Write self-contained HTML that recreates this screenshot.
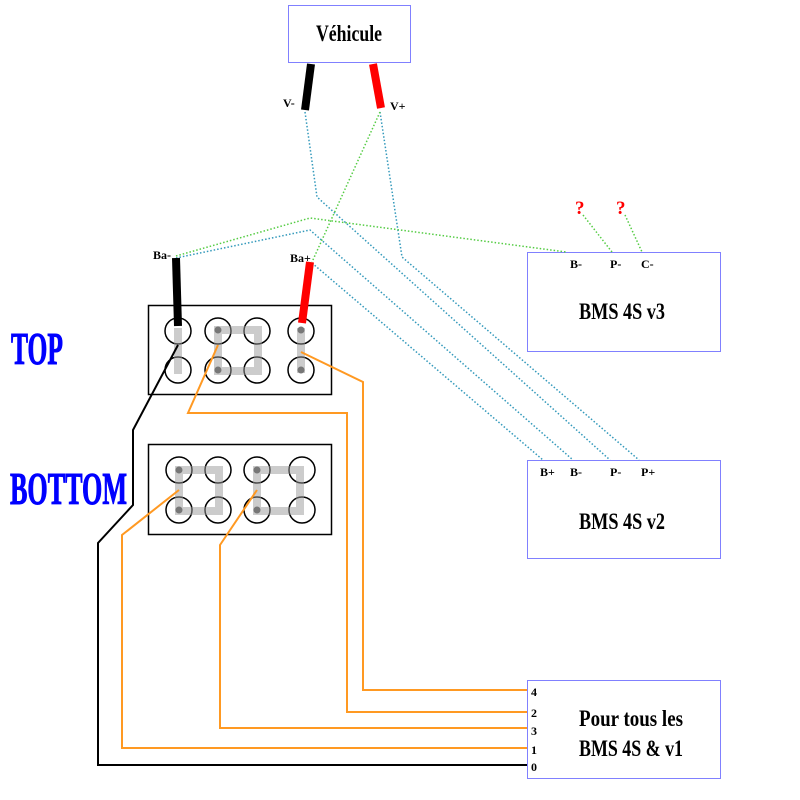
<!DOCTYPE html>
<html><head><meta charset="utf-8"><style>html,body{margin:0;padding:0;background:#fff}svg{display:block}</style></head>
<body>
<svg width="800" height="800" viewBox="0 0 800 800" xmlns="http://www.w3.org/2000/svg" font-family="Liberation Serif, serif" font-weight="bold">
<rect width="800" height="800" fill="#fff"/>
<rect x="288.5" y="5.5" width="122" height="57" fill="#fff" stroke="#8080ff" stroke-width="1"/>
<text x="349" y="41" font-size="23" text-anchor="middle" textLength="66" lengthAdjust="spacingAndGlyphs">Véhicule</text>
<rect x="527.5" y="252.5" width="193" height="99" fill="none" stroke="#8080ff"/>
<text x="622" y="319" font-size="23" text-anchor="middle" textLength="86" lengthAdjust="spacingAndGlyphs">BMS 4S v3</text>
<rect x="527.5" y="460.5" width="193" height="98" fill="none" stroke="#8080ff"/>
<text x="622" y="529" font-size="23" text-anchor="middle" textLength="86" lengthAdjust="spacingAndGlyphs">BMS 4S v2</text>
<rect x="527.5" y="680.5" width="193" height="98" fill="none" stroke="#8080ff"/>
<text x="631" y="726" font-size="23" text-anchor="middle" textLength="104" lengthAdjust="spacingAndGlyphs">Pour tous les</text>
<text x="631" y="756" font-size="23" text-anchor="middle" textLength="104" lengthAdjust="spacingAndGlyphs">BMS 4S &amp; v1</text>
<text x="11" y="364" font-size="45" fill="#0000ff" stroke="#0000ff" stroke-width="1" textLength="52" lengthAdjust="spacingAndGlyphs">TOP</text>
<text x="10" y="504" font-size="45" fill="#0000ff" stroke="#0000ff" stroke-width="1" textLength="117" lengthAdjust="spacingAndGlyphs">BOTTOM</text>
<rect x="148.5" y="305.5" width="183" height="89" fill="#fff" stroke="#000" stroke-width="1.5"/>
<rect x="148.5" y="444.5" width="183" height="90" fill="#fff" stroke="#000" stroke-width="1.5"/>
<g fill="none" stroke="#000" stroke-width="1.5">
<circle cx="178" cy="331" r="13"/><circle cx="218" cy="331" r="13"/><circle cx="257" cy="331" r="13"/><circle cx="301" cy="331" r="13"/>
<circle cx="178" cy="370" r="13"/><circle cx="218" cy="370" r="13"/><circle cx="257" cy="370" r="13"/><circle cx="301" cy="370" r="13"/>
<circle cx="179" cy="470" r="13"/><circle cx="218" cy="470" r="13"/><circle cx="257" cy="470" r="13"/><circle cx="302" cy="470" r="13"/>
<circle cx="179" cy="510" r="13"/><circle cx="218" cy="510" r="13"/><circle cx="257" cy="510" r="13"/><circle cx="302" cy="510" r="13"/>
</g>
<g fill="none" stroke="#999" stroke-opacity="0.5" stroke-width="8">
<line x1="178" y1="328" x2="178" y2="374"/>
<rect x="218" y="330" width="40" height="41"/>
<line x1="301" y1="328" x2="301" y2="373"/>
<rect x="179" y="470" width="40" height="41"/>
<rect x="257" y="470" width="43" height="41"/>
</g>
<g fill="#777"><circle cx="218" cy="330" r="3.5"/><circle cx="218" cy="370" r="3.5"/><circle cx="301" cy="330" r="3.5"/><circle cx="301" cy="370" r="3.5"/>
<circle cx="179" cy="470" r="3.5"/><circle cx="179" cy="510" r="3.5"/><circle cx="257" cy="470" r="3.5"/><circle cx="257" cy="510" r="3.5"/></g>
<g fill="none" stroke-width="2">
<polyline points="178,345 133,430 133,505 98,543 98,765 527,765" stroke="#000"/>
<polyline points="301,352 363,382 363,690 527,690" stroke="#ff9922"/>
<polyline points="218,345 188,413 347,413 347,712 527,712" stroke="#ff9922"/>
<polyline points="257,490 220,545 220,728 527,728" stroke="#ff9922"/>
<polyline points="179,490 122,535 122,748 527,748" stroke="#ff9922"/>
</g>
<g fill="none" stroke-width="1.5" stroke-dasharray="1.5 2">
<polyline points="305,112 317,197 610,460" stroke="#3399bb"/>
<polyline points="380,112 402,257 639,460" stroke="#3399bb"/>
<polyline points="176,258 310,230 573,460" stroke="#3399bb"/>
<polyline points="312,263 543,460" stroke="#3399bb"/>
<polyline points="176,256 310,218 566,252" stroke="#55cc44"/>
<polyline points="380,112 312,262" stroke="#55cc44"/>
<polyline points="583,215 612,252" stroke="#55cc44"/>
<polyline points="625,215 642,252" stroke="#55cc44"/>
</g>
<g stroke-width="8">
<line x1="311" y1="64" x2="305" y2="110" stroke="#000"/>
<line x1="373" y1="64" x2="381" y2="108" stroke="#ff0000"/>
<line x1="176" y1="258" x2="178" y2="326" stroke="#000"/>
<line x1="310" y1="262" x2="302" y2="323" stroke="#ff0000"/>
</g>
<g font-size="12">
<text x="283" y="107">V-</text><text x="390" y="110">V+</text>
<text x="153" y="259">Ba-</text><text x="290" y="262">Ba+</text>
<text x="570" y="268">B-</text><text x="610" y="268">P-</text><text x="641" y="268">C-</text>
<text x="540" y="476">B+</text><text x="570" y="476">B-</text><text x="610" y="476">P-</text><text x="641" y="476">P+</text>
<text x="531" y="696">4</text><text x="531" y="717">2</text><text x="531" y="735">3</text><text x="531" y="754">1</text><text x="531" y="771">0</text>
</g>
<text x="575" y="214" font-size="19" fill="#ff0000">?</text>
<text x="616" y="214" font-size="19" fill="#ff0000">?</text>
</svg>
</body></html>
